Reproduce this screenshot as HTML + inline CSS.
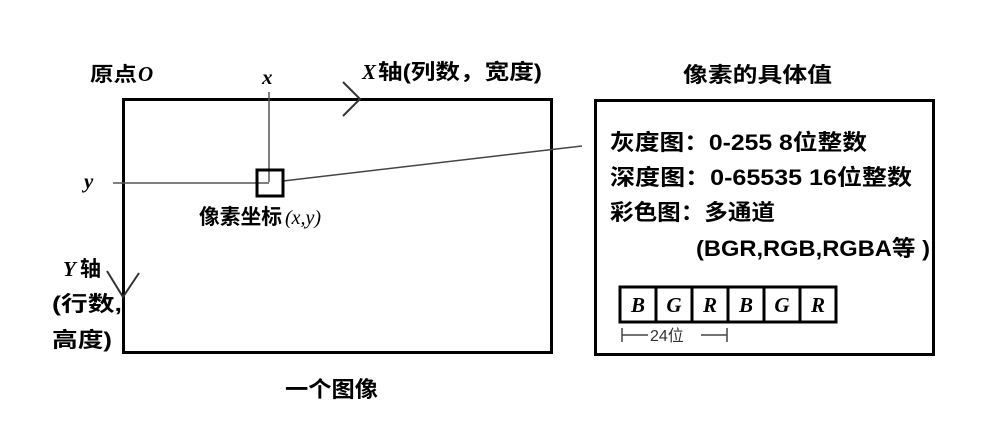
<!DOCTYPE html>
<html><head><meta charset="utf-8"><style>
html,body{margin:0;padding:0;background:#fff;}
svg{display:block;}
.c{font-family:"Liberation Sans","Noto Sans CJK SC",sans-serif;font-weight:bold;fill:#000;}
.i{font-family:"Liberation Serif",serif;font-style:italic;font-weight:bold;fill:#000;}
</style></head><body>
<svg width="1004" height="438" viewBox="0 0 1004 438" xmlns="http://www.w3.org/2000/svg">
<rect x="123.5" y="99.5" width="428" height="253" fill="none" stroke="#000" stroke-width="3"/>
<rect x="595.5" y="100.5" width="338" height="254" fill="none" stroke="#000" stroke-width="3"/>
<line x1="269" y1="92" x2="269" y2="182" stroke="#555" stroke-width="1.5"/>
<line x1="113" y1="183" x2="269" y2="183" stroke="#555" stroke-width="1.5"/>
<line x1="283" y1="181" x2="582" y2="146" stroke="#444" stroke-width="1.5"/>
<rect x="257" y="170" width="26" height="26" fill="none" stroke="#000" stroke-width="3"/>
<polyline points="343,82 360,99 343,116" fill="none" stroke="#333" stroke-width="2"/>
<polyline points="107,271 123,297 139,273" fill="none" stroke="#333" stroke-width="2"/>
<text x="90" y="81" class="c" font-size="20" textLength="47" lengthAdjust="spacingAndGlyphs">原点</text>
<text x="138" y="81" class="i" font-size="21">O</text>
<text x="262" y="84" class="i" font-size="21">x</text>
<text x="362" y="79" class="i" font-size="21">X</text>
<text x="378" y="79" class="c" font-size="21" textLength="164" lengthAdjust="spacingAndGlyphs">轴(列数，宽度)</text>
<text x="84" y="188" class="i" font-size="21">y</text>
<text x="199" y="224" class="c" font-size="21" textLength="83" lengthAdjust="spacingAndGlyphs">像素坐标</text>
<text x="285" y="224" font-family="Liberation Serif,serif" font-style="italic" font-size="20">(x,y)</text>
<text x="63" y="276" class="i" font-size="21">Y</text>
<text x="80" y="276" class="c" font-size="21">轴</text>
<text x="52" y="311" class="c" font-size="21" textLength="70" lengthAdjust="spacingAndGlyphs">(行数,</text>
<text x="52" y="347" class="c" font-size="21" textLength="60" lengthAdjust="spacingAndGlyphs">高度)</text>
<text x="285" y="397" class="c" font-size="22" textLength="93" lengthAdjust="spacingAndGlyphs">一个图像</text>
<text x="683" y="82" class="c" font-size="21" textLength="149" lengthAdjust="spacingAndGlyphs">像素的具体值</text>
<text x="610" y="150" class="c" font-size="22" textLength="257" lengthAdjust="spacingAndGlyphs">灰度图：0-255 8位整数</text>
<text x="610" y="185" class="c" font-size="22" textLength="302" lengthAdjust="spacingAndGlyphs">深度图：0-65535 16位整数</text>
<text x="610" y="220" class="c" font-size="22" textLength="165" lengthAdjust="spacingAndGlyphs">彩色图：多通道</text>
<text x="696" y="256" class="c" font-size="22" textLength="234" lengthAdjust="spacingAndGlyphs">(BGR,RGB,RGBA等 )</text>
<g fill="none" stroke="#000" stroke-width="3">
<rect x="620" y="287" width="216" height="35"/>
<line x1="656" y1="287" x2="656" y2="322"/><line x1="692" y1="287" x2="692" y2="322"/>
<line x1="728" y1="287" x2="728" y2="322"/><line x1="764" y1="287" x2="764" y2="322"/>
<line x1="800" y1="287" x2="800" y2="322"/>
</g>
<g class="i" font-size="21" text-anchor="middle">
<text x="638" y="312">B</text><text x="674" y="312">G</text><text x="710" y="312">R</text>
<text x="746" y="312">B</text><text x="782" y="312">G</text><text x="818" y="312">R</text>
</g>
<g stroke="#444" stroke-width="1.5">
<line x1="622" y1="328" x2="622" y2="342"/><line x1="622" y1="335" x2="648" y2="335"/>
<line x1="701" y1="335" x2="727" y2="335"/><line x1="727" y1="328" x2="727" y2="342"/>
</g>
<text x="650" y="341" font-family="Liberation Sans,Noto Sans CJK SC,sans-serif" font-size="16" fill="#333">24位</text>
</svg>
</body></html>
